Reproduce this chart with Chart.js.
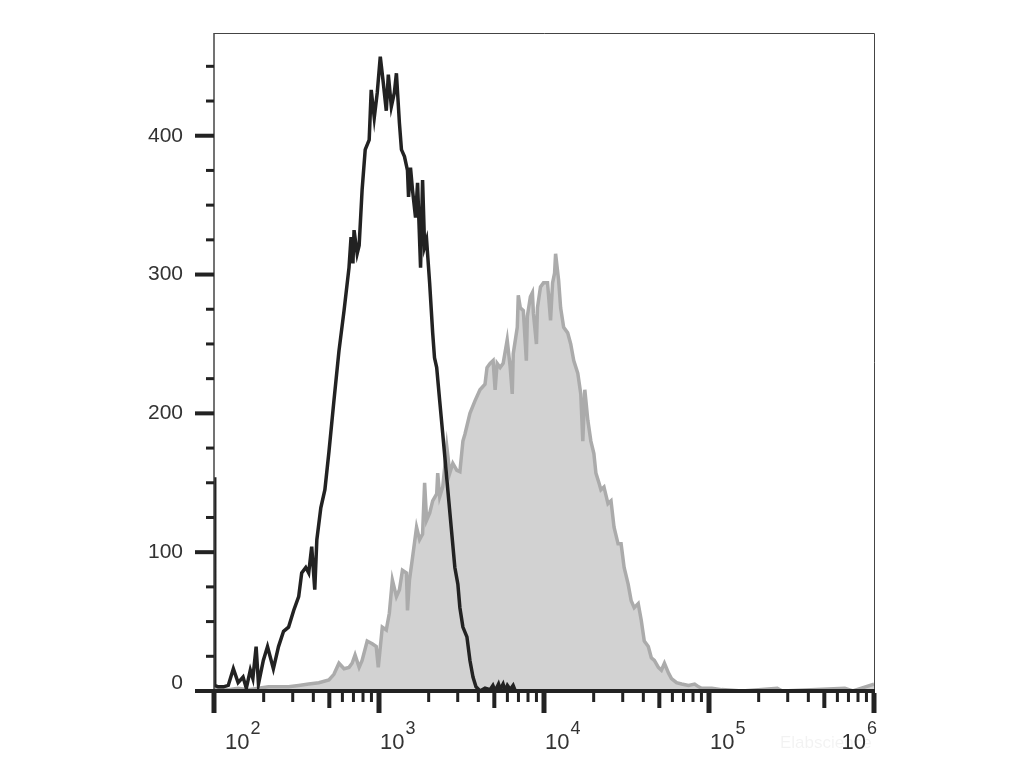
<!DOCTYPE html>
<html>
<head>
<meta charset="utf-8">
<script src="https://cdn.jsdelivr.net/npm/chart.js@4.4.1/dist/chart.umd.min.js"></script>
<style>
  html, body { margin: 0; padding: 0; background: #fff; }
  #wrap { width: 1031px; height: 773px; }
</style>
</head>
<body>
<div id="wrap"><canvas id="histo" width="1031" height="773"></canvas></div>
<script>
// fluorescence intensity (x) and event counts (y)
const blackX = [100, 101, 106, 114, 122, 131, 140, 150, 157, 166, 172, 180, 186, 199, 211, 229, 246, 264, 283, 304,
  326, 340, 360, 375, 391, 408, 420, 444, 470, 497, 533, 572, 614, 658, 677, 695, 706, 737, 758, 790,
  825, 872, 897, 936, 976, 1018, 1062, 1107, 1139, 1188, 1239, 1275, 1330, 1368, 1427, 1488, 1510, 1552, 1596, 1665,
  1713, 1786, 1837, 1890, 1943, 2027, 2115, 2170, 2237, 2333, 2435, 2540, 2649, 2763, 2882, 3006, 3092, 3225, 3411, 3558,
  3712, 3871, 4095, 4392, 4713, 4900, 5056, 5300, 5425, 5650, 5821, 6000, 6245, 6500, 6699, 1000000];
const blackCounts = [154, 4, 3, 3, 4, 16, 6, 10, 2, 15, 9, 32, 5, 22, 32, 16, 32, 43, 46, 58,
  68, 85, 89, 85, 104, 73, 109, 132, 145, 172, 209, 245, 274, 305, 327, 308, 332, 315, 321, 361,
  390, 397, 433, 413, 431, 457, 438, 418, 444, 421, 431, 445, 409, 390, 385, 375, 356, 377, 361, 341,
  366, 305, 368, 320, 325, 294, 258, 240, 233, 209, 185, 161, 137, 113, 89, 77, 60, 46, 39, 22,
  10, 3, 0, 2, 1, 4, 0, 5, 1, 5, 0, 4, 1, 4, 0, 0];

const grayX = [100, 106, 122, 140, 161, 186, 214, 246, 283, 326, 375, 432, 497, 533, 572, 614, 658, 687, 716, 758,
  790, 848, 910, 962, 990, 1047, 1107, 1155, 1205, 1275, 1330, 1387, 1467, 1488, 1530, 1596, 1689, 1762, 1837, 1890,
  1944, 2028, 2115, 2237, 2269, 2334, 2434, 2575, 2686, 2802, 2964, 3092, 3225, 3317, 3558, 3816, 4093, 4390, 4515, 4712,
  4915, 5055, 5199, 5423, 5657, 5984, 6242, 6420, 6511, 6888, 6985, 7184, 7494, 7817, 7928, 8270, 8506, 8627, 8999, 9127,
  9520, 9930, 10505, 10957, 11270, 11591, 11755, 12262, 12611, 13155, 13916, 14516, 15142, 16018, 16708, 17185, 17674, 18436, 19232, 20060,
  20632, 21520, 22134, 23088, 24423, 25476, 26574, 28112, 29325, 30590, 32359, 33752, 35207, 37242, 38848, 40522, 42866, 44714, 46641, 49338,
  51464, 53682, 56787, 59234, 63550, 68180, 75210, 81840, 86580, 90300, 103940, 119640, 158490, 259300, 278100, 665300, 744300, 1000000];
const grayCounts = [2, 2, 1, 2, 1, 2, 3, 3, 3, 4, 5, 6, 8, 12, 20, 16, 17, 20, 26, 17,
  22, 36, 34, 32, 17, 46, 44, 56, 80, 68, 73, 87, 85, 58, 80, 96, 118, 109, 113, 150,
  123, 128, 137, 142, 157, 140, 147, 176, 157, 164, 159, 158, 180, 185, 200, 209, 217, 221, 233, 236,
  238, 217, 236, 233, 236, 253, 233, 214, 243, 262, 285, 276, 274, 238, 270, 284, 287, 272, 250, 276,
  291, 294, 294, 267, 294, 301, 315, 296, 276, 262, 258, 250, 238, 229, 214, 180, 217, 195, 180, 171,
  157, 150, 145, 147, 135, 137, 118, 106, 106, 89, 77, 65, 60, 63, 51, 36, 32, 24, 22, 17,
  15, 20, 13, 9, 6, 5, 4, 5, 3, 2, 2, 1, 0, 2, 0, 2, 0, 5];

const yTickLabels = [0, 100, 200, 300, 400];
const xDecades = [2, 3, 4, 5, 6];

const FONT = '"Liberation Sans", Arial, sans-serif';

function toPoints(xs, ys) {
  return xs.map((x, i) => ({ x: x, y: ys[i] }));
}

// axis frame, tick marks and labels
const axisDecor = {
  id: 'axisDecor',
  afterDraw(chart) {
    const ctx = chart.ctx;
    const xs = chart.scales.x;
    const ys = chart.scales.y;
    const a = chart.chartArea;
    const y0 = ys.getPixelForValue(0);
    ctx.save();

    // thin box
    ctx.strokeStyle = '#444';
    ctx.lineWidth = 1;
    ctx.beginPath();
    ctx.moveTo(a.left, a.top + 0.5);
    ctx.lineTo(a.right + 0.5, a.top + 0.5);
    ctx.lineTo(a.right + 0.5, y0);
    ctx.stroke();
    ctx.lineWidth = 1.5;
    ctx.beginPath();
    ctx.moveTo(a.left, a.top);
    ctx.lineTo(a.left, y0);
    ctx.stroke();

    // heavy x axis line
    ctx.strokeStyle = '#222';
    ctx.lineWidth = 4;
    ctx.beginPath();
    ctx.moveTo(a.left - 1, y0);
    ctx.lineTo(a.right + 1, y0);
    ctx.stroke();

    // y ticks
    ctx.fillStyle = '#222';
    for (let v = 0; v <= 450; v += 25) {
      const py = ys.getPixelForValue(v);
      if (v % 100 === 0) ctx.fillRect(a.left - 19, py - 2, 19, 4);
      else ctx.fillRect(a.left - 8, py - 1.5, 8, 3);
    }
    ctx.fillStyle = '#333';
    ctx.font = '21px ' + FONT;
    ctx.textAlign = 'right';
    ctx.textBaseline = 'middle';
    yTickLabels.forEach(v => {
      let py = ys.getPixelForValue(v);
      if (v === 0) py -= 8;
      ctx.fillText(String(v), a.left - 31, py);
    });

    // x ticks
    ctx.fillStyle = '#222';
    for (let d = 2; d <= 6; d++) {
      for (let m = 1; m <= 9; m++) {
        const val = m * Math.pow(10, d);
        if (val > xs.max * 1.0001) break;
        const px = xs.getPixelForValue(val);
        if (m === 1) ctx.fillRect(px - 2.5, y0 + 2, 5, 20);
        else if (m === 5) ctx.fillRect(px - 2, y0 + 2, 4, 15);
        else ctx.fillRect(px - 1.5, y0 + 2, 3, 9);
      }
    }

    // x labels: 10 with superscript exponent
    ctx.fillStyle = '#333';
    ctx.textBaseline = 'alphabetic';
    xDecades.forEach((e, i) => {
      const px = xs.getPixelForValue(Math.pow(10, e));
      ctx.font = '22px ' + FONT;
      const baseW = ctx.measureText('10').width;
      ctx.font = '18px ' + FONT;
      const supW = ctx.measureText(String(e)).width;
      let left = px + 1;
      if (i === 0) left = px + 11;
      if (i === xDecades.length - 1) left = px + 2 - baseW - supW;
      ctx.textAlign = 'left';
      ctx.font = '22px ' + FONT;
      ctx.fillText('10', left, y0 + 58);
      ctx.font = '18px ' + FONT;
      ctx.fillText(String(e), left + baseW + 1, y0 + 43);
    });

    // faint watermark
    ctx.fillStyle = 'rgba(0,0,0,0.05)';
    ctx.font = '17px ' + FONT;
    ctx.textAlign = 'left';
    ctx.fillText('Elabscience', 780, y0 + 57);

    ctx.restore();
  }
};

new Chart(document.getElementById('histo'), {
  type: 'line',
  data: {
    datasets: [
      {
        label: 'control',
        data: toPoints(blackX, blackCounts),
        borderColor: '#222222',
        borderWidth: 3.5,
        pointRadius: 0,
        tension: 0,
        fill: false,
        order: 0
      },
      {
        label: 'stained',
        data: toPoints(grayX, grayCounts),
        borderColor: '#ababab',
        backgroundColor: '#d2d2d2',
        borderWidth: 3.5,
        pointRadius: 0,
        tension: 0,
        fill: 'origin',
        order: 1
      }
    ]
  },
  options: {
    responsive: false,
    animation: false,
    layout: { padding: { left: 214, right: 157, top: 33, bottom: 82 } },
    plugins: { legend: { display: false }, tooltip: { enabled: false } },
    scales: {
      x: { type: 'logarithmic', min: 100, max: 1000000, display: false },
      y: { type: 'linear', min: 0, max: 474, display: false }
    }
  },
  plugins: [axisDecor]
});
</script>
</body>
</html>
